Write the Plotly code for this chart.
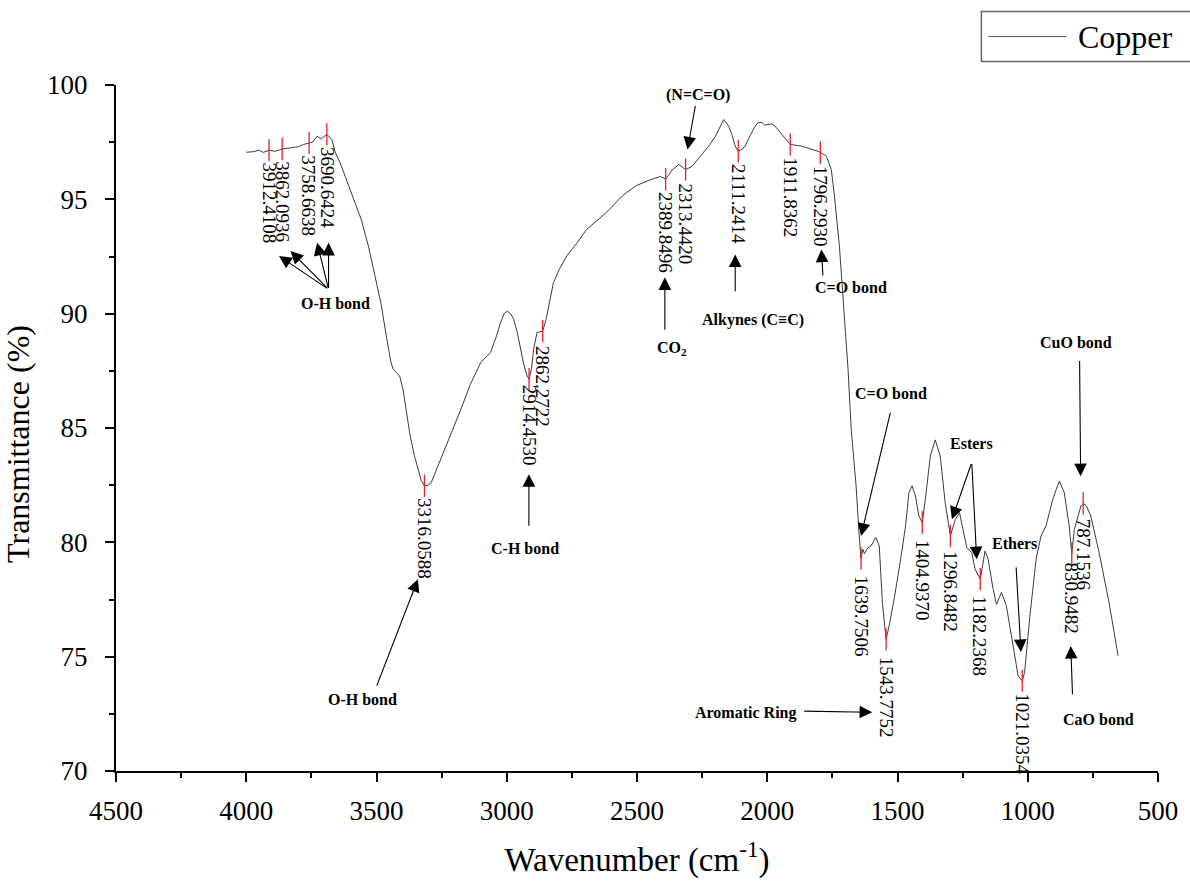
import plotly.graph_objects as go

# ---------------- data ----------------
wavenumber = [4000, 3975, 3950, 3935, 3912, 3890, 3862, 3835, 3800, 3780, 3759, 3745, 3728, 3712, 3690,
              3671, 3658, 3640, 3620, 3590, 3558, 3530, 3506, 3482, 3462, 3445, 3436, 3420, 3411, 3398,
              3385, 3373, 3355, 3341, 3328, 3316, 3302, 3290, 3265, 3240, 3210, 3176, 3140, 3100, 3080,
              3062, 3040, 3024, 3010, 2998, 2985, 2973, 2960, 2948, 2935, 2922, 2914, 2905, 2897, 2884,
              2862, 2850, 2835, 2821, 2800, 2770, 2730, 2694, 2650, 2605, 2570, 2541, 2503, 2450, 2410,
              2390, 2364, 2339, 2325, 2313, 2288, 2270, 2249, 2220, 2199, 2180, 2167, 2148, 2135, 2123,
              2111, 2095, 2085, 2065, 2047, 2035, 2021, 2010, 1996, 1983, 1970, 1940, 1912, 1869, 1830,
              1805, 1796, 1773, 1754, 1742, 1723, 1704, 1690, 1678, 1668, 1659, 1647, 1640, 1633, 1627,
              1615, 1602, 1583, 1570, 1558, 1544, 1532, 1513, 1488, 1469, 1456, 1444, 1431, 1418, 1405,
              1393, 1374, 1355, 1336, 1317, 1297, 1278, 1262, 1247, 1234, 1215, 1202, 1182, 1164, 1152,
              1133, 1120, 1101, 1082, 1056, 1037, 1021, 1012, 993, 968, 949, 930, 904, 879, 860,
              841, 831, 821, 796, 787, 775, 758, 726, 688, 653]
transmittance = [97.06, 97.08, 97.15, 97.05, 97.15, 97.10, 97.20, 97.25, 97.30, 97.40, 97.47, 97.50, 97.76, 97.65, 97.84,
                 97.60, 97.04, 96.60, 96.00, 95.10, 94.10, 92.90, 91.64, 90.40, 89.00, 87.90, 87.57, 87.40, 87.27, 86.69,
                 85.70, 84.80, 83.80, 83.20, 82.70, 82.47, 82.50, 82.61, 83.30, 84.07, 84.90, 85.82, 86.90, 87.86, 88.10,
                 88.30, 89.00, 89.60, 90.00, 90.11, 90.00, 89.75, 89.20, 88.44, 87.80, 87.27, 87.13, 87.60, 88.44, 89.17,
                 89.24, 89.70, 90.60, 91.35, 91.90, 92.52, 93.10, 93.68, 94.10, 94.56, 95.00, 95.29, 95.60, 95.85, 96.00,
                 95.88, 96.30, 96.53, 96.40, 96.30, 96.45, 96.70, 97.04, 97.40, 97.76, 98.20, 98.49, 98.20, 97.80, 97.33,
                 97.10, 97.20, 97.33, 97.80, 98.20, 98.35, 98.37, 98.25, 98.27, 98.30, 98.20, 97.80, 97.40, 97.33, 97.20,
                 97.10, 97.05, 96.89, 96.30, 95.14, 92.95, 90.04, 87.60, 85.00, 83.80, 82.47, 80.28, 79.30, 79.70, 79.50,
                 79.75, 79.84, 80.21, 79.84, 77.37, 75.76, 76.35, 77.51, 79.26, 80.72, 82.18, 82.47, 82.03, 81.15, 80.87,
                 81.88, 83.78, 84.48, 83.78, 81.74, 80.28, 81.01, 81.30, 80.43, 79.77, 79.55, 78.82, 78.39, 79.62, 79.26,
                 77.95, 77.29, 77.81, 77.22, 75.47, 74.16, 73.94, 74.31, 76.64, 79.26, 80.28, 80.72, 81.88, 82.68, 82.18,
                 80.72, 79.50, 80.57, 81.59, 81.70, 81.60, 81.15, 79.55, 77.37, 75.04]

peak_wn = [3912.4108, 3862.0936, 3758.6638, 3690.6424, 3316.0588, 2914.4530, 2862.2722,
           2389.8496, 2313.4420, 2111.2414, 1911.8362, 1796.2930, 1639.7506, 1543.7752,
           1404.9370, 1296.8482, 1182.2368, 1021.0354, 830.9482, 787.1536]
peak_T = [97.15, 97.20, 97.47, 97.84, 82.47, 87.13, 89.24,
          95.88, 96.30, 97.10, 97.40, 97.05, 79.30, 75.76,
          80.87, 80.28, 78.39, 73.94, 79.50, 81.70]
peak_label_shift = [-10, -10, -10, -11, -10, -3, -13,
                    -11, -12, -11, -11, -11, -15, -15,
                    -15, -13, -15, -10, -7, -13]

# group labels: text, (wavenumber, transmittance)
group_text = ["O-H bond", "O-H bond", "C-H bond", "CO<sub>2</sub>", "(N=C=O)", "Alkynes (C≡C)",
              "C=O bond", "C=O bond", "Esters", "Ethers", "CuO bond", "CaO bond", "Aromatic Ring"]
group_wn = [3657, 3554, 2930, 2366, 2267, 2054, 1677, 1525, 1216, 1052, 813, 729, 2085]
group_T = [90.45, 73.14, 79.74, 88.48, 99.58, 89.71, 91.15, 86.52, 84.33, 79.96, 88.75, 72.27, 72.53]

# arrows: tail (wavenumber, T) -> head (wavenumber, T)
arrow_tail_wn = [3684, 3684, 3684, 3684, 3501, 2915, 2393, 2275, 2123, 1786, 1526, 1215, 1215, 1045, 801, 828, 1864]
arrow_tail_T = [91.06, 91.06, 91.06, 91.06, 73.67, 80.66, 89.23, 99.15, 90.92, 91.6, 85.74, 83.49, 83.49, 78.97, 88.0, 73.29, 72.62]
arrow_head_wn = [3874, 3830, 3728, 3684, 3341, 2915, 2393, 2306, 2123, 1792, 1640, 1291, 1196, 1026, 797, 835, 1597]
arrow_head_T = [92.52, 92.74, 93.10, 93.10, 78.39, 82.98, 91.59, 97.18, 92.59, 92.81, 80.28, 81.01, 79.26, 75.2, 82.89, 75.47, 72.57]

x_ticks = [4500, 4000, 3500, 3000, 2500, 2000, 1500, 1000, 500]
y_ticks = [70, 75, 80, 85, 90, 95, 100]

SERIF = "Liberation Serif, Times New Roman, serif"

fig = go.Figure()
fig.add_trace(go.Scatter(x=wavenumber, y=transmittance, mode="lines", name="Copper",
                         line=dict(color="#3a3a3a", width=1), showlegend=False))
fig.add_trace(go.Scatter(x=peak_wn, y=peak_T, mode="markers", showlegend=False,
                         marker=dict(symbol="line-ns", size=16, line=dict(color="#e8202a", width=1.3))))

annotations = []
for w, t, s in zip(peak_wn, peak_T, peak_label_shift):
    annotations.append(dict(x=w, y=t, xref="x", yref="y", text=f"{w:.4f}", textangle=90,
                            showarrow=False, xanchor="center", yanchor="top", yshift=s,
                            font=dict(family=SERIF, size=19, color="black")))
for txt, w, t in zip(group_text, group_wn, group_T):
    annotations.append(dict(x=w, y=t, xref="x", yref="y", text=f"<b>{txt}</b>", showarrow=False,
                            xanchor="center", yanchor="middle",
                            font=dict(family=SERIF, size=16, color="black")))
for tw, tt, hw, ht in zip(arrow_tail_wn, arrow_tail_T, arrow_head_wn, arrow_head_T):
    annotations.append(dict(x=hw, y=ht, ax=tw, ay=tt, xref="x", yref="y", axref="x", ayref="y",
                            text="", showarrow=True, arrowhead=2, arrowsize=2.3, arrowwidth=1.1,
                            arrowcolor="black"))
# legend-like box
annotations.append(dict(x=0.921, y=1.0706, xref="paper", yref="paper", text="Copper", showarrow=False,
                        xanchor="left", yanchor="middle", font=dict(family=SERIF, size=32, color="black")))

shapes = [
    dict(type="rect", xref="paper", yref="paper", x0=0.8305, x1=1.04, y0=1.0342, y1=1.107,
         line=dict(color="#666666", width=1.5), fillcolor="rgba(0,0,0,0)"),
    dict(type="line", xref="paper", yref="paper", x0=0.837, x1=0.912, y0=1.0706, y1=1.0706,
         line=dict(color="#555555", width=1)),
]

fig.update_layout(
    width=1190, height=884,
    margin=dict(l=116, r=24, t=85, b=112),
    paper_bgcolor="white", plot_bgcolor="white",
    font=dict(family=SERIF, color="black"),
    annotations=annotations, shapes=shapes,
    xaxis=dict(range=[4500, 500], tickvals=x_ticks, ticktext=[str(v) for v in x_ticks],
               showgrid=False, zeroline=False, showline=True, linecolor="black", linewidth=2,
               ticks="outside", ticklen=9, tickwidth=2, tickcolor="black",
               tickfont=dict(family=SERIF, size=27, color="black"), ticklabelstandoff=6,
               minor=dict(ticks="outside", ticklen=5, tickwidth=2, tickcolor="black", dtick=250, tick0=500),
               title=dict(text="Wavenumber (cm<sup>-1</sup>)", font=dict(family=SERIF, size=33, color="black"),
                          standoff=22)),
    yaxis=dict(range=[70, 100], tickvals=y_ticks, showgrid=False, zeroline=False, showline=True,
               linecolor="black", linewidth=2, ticks="outside", ticklen=9, tickwidth=2, tickcolor="black",
               tickfont=dict(family=SERIF, size=27, color="black"), ticklabelstandoff=12,
               minor=dict(ticks="outside", ticklen=5, tickwidth=2, tickcolor="black", dtick=2.5, tick0=70),
               title=dict(text="Transmittance (%)&nbsp;&nbsp;&nbsp;&nbsp;", font=dict(family=SERIF, size=32, color="black"),
                          standoff=8)),
)

fig.write_html("out.html", config={"displayModeBar": False},
               post_script="document.body.style.margin='0';")
